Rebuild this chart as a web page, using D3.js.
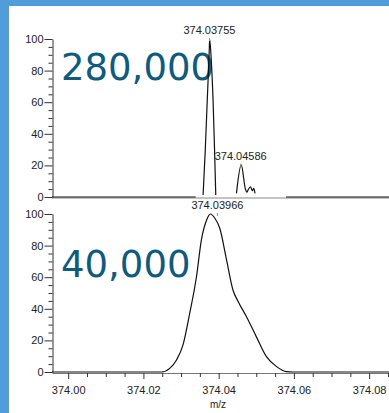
<!DOCTYPE html>
<html>
<head>
<meta charset="utf-8">
<script src="https://cdn.jsdelivr.net/npm/d3@7"></script>
<style>
  html, body { margin: 0; padding: 0; background: #fff; }
  svg { display: block; }
</style>
</head>
<body>
<div id="chart"></div>
<script>
// axis ticks
const yMajor = [0, 20, 40, 60, 80, 100];
const yMinor = [5, 10, 15, 25, 30, 35, 45, 50, 55, 65, 70, 75, 85, 90, 95];
const xMajor = [374.00, 374.02, 374.04, 374.06, 374.08];
const xMinor = [374.005, 374.01, 374.015, 374.025, 374.03, 374.035, 374.045, 374.05, 374.055, 374.065, 374.07, 374.075, 374.085];

// resolution labels
const resolutions = ['280,000', '40,000'];

// top profile (R = 280,000), null = gap in the trace
const topMz = [373.9957, 374.0339, null,
  374.03586, 374.03644, 374.03697, 374.03750, 374.03760, 374.03803, 374.03851, 374.03891, 374.03923, null,
  374.04473, 374.04600, 374.04712, 374.04750, 374.04781, 374.04845, 374.04898, 374.04932, 374.04967, null,
  374.0579, 374.0882];
const topInt = [0, 0, null,
  1.3, 29.7, 61.4, 93, 100, 86.7, 61.4, 29.7, 1.3, null,
  2.3, 20.3, 4.9, 3.0, 4.4, 6.5, 4.0, 5.5, 2.3, null,
  0, 0];

// bottom profile (R = 40,000)
const bottomMz = [373.9957, 374.0248, 374.0270, 374.0288, 374.0305, 374.0323, 374.0341, 374.0354, 374.0368, 374.0378,
  374.0390, 374.0403, 374.0421, 374.0438, 374.0452, 374.0474, 374.0500, 374.0527, 374.0554, 374.0580, 374.0598, 374.0882];
const bottomInt = [0, 0, 2.3, 7.6, 17, 37.1, 60.3, 83.5, 96.2, 100,
  97.3, 91, 70.9, 51.9, 44.5, 35, 22.4, 9.7, 3.4, 0.2, 0, 0];

// centroid labels
const topPeakMz = [374.03755, 374.04586];
const topPeakInt = [100, 20.5];
const bottomPeakMz = [374.03966];
const bottomPeakInt = [100];

const width = 389;
const height = 413;

const svg = d3.select('#chart')
  .append('svg')
  .attr('width', width)
  .attr('height', height)
  .style('font-family', '"Liberation Sans", Arial, sans-serif');

// blue frame
svg.append('rect').attr('x', 0).attr('y', 0).attr('width', width).attr('height', height).attr('fill', '#519dd9');
svg.append('rect').attr('x', 9).attr('y', 6).attr('width', width - 9).attr('height', height - 6).attr('fill', '#fff');

const x = d3.scaleLinear()
  .domain([373.9957, 374.0882])
  .range([52, 400]);

const panels = [
  { mz: topMz, int: topInt, peakMz: topPeakMz, peakInt: topPeakInt, y: d3.scaleLinear().domain([0, 100]).range([197, 39]), label: resolutions[0], labelY: 80, xLabels: false },
  { mz: bottomMz, int: bottomInt, peakMz: bottomPeakMz, peakInt: bottomPeakInt, y: d3.scaleLinear().domain([0, 100]).range([372, 214]), label: resolutions[1], labelY: 277, xLabels: true }
];

panels.forEach(p => {
  const g = svg.append('g');
  const y = p.y;

  // resolution text
  g.append('text')
    .attr('x', 61)
    .attr('y', p.labelY)
    .style('font-family', '"DejaVu Sans", sans-serif')
    .style('font-size', '37px')
    .style('fill', '#0f5a7d')
    .text(p.label);

  // y axis minor / major
  g.append('g')
    .attr('transform', 'translate(52.5,0)')
    .call(d3.axisLeft(y).tickValues(yMinor).tickSize(4).tickSizeOuter(0).tickFormat(''))
    .call(s => s.select('.domain').attr('stroke', '#333'))
    .call(s => s.selectAll('.tick line').attr('stroke', '#333'));

  g.append('g')
    .attr('transform', 'translate(52.5,0)')
    .call(d3.axisLeft(y).tickValues(yMajor).tickSize(8).tickSizeOuter(0).tickPadding(1))
    .call(s => s.select('.domain').remove())
    .call(s => s.selectAll('.tick line').attr('stroke', '#333'))
    .call(s => s.selectAll('text').style('font-size', '11px').style('fill', '#222').attr('font-family', null));

  // x axis line (and ticks for the bottom panel)
  const y0 = y(0) + 1;
  if (p.xLabels) {
    g.append('g')
      .attr('transform', `translate(0,${y0})`)
      .call(d3.axisBottom(x).tickValues(xMinor).tickSize(4).tickSizeOuter(0).tickFormat(''))
      .call(s => s.select('.domain').attr('stroke', '#777'))
      .call(s => s.selectAll('.tick line').attr('stroke', '#333'));
    g.append('g')
      .attr('transform', `translate(0,${y0})`)
      .call(d3.axisBottom(x).tickValues(xMajor).tickSize(6).tickPadding(7).tickFormat(d3.format('.2f')))
      .call(s => s.select('.domain').remove())
      .call(s => s.selectAll('.tick line').attr('stroke', '#333'))
      .call(s => s.selectAll('text').style('font-size', '11px').style('fill', '#222').attr('font-family', null));
  } else {
    g.append('line')
      .attr('x1', 52).attr('x2', width)
      .attr('y1', y0).attr('y2', y0)
      .attr('stroke', '#888');
  }

  // profile trace
  const pts = p.mz.map((m, i) => [m, p.int[i]]);
  const line = d3.line()
    .defined(d => d[0] !== null && d[1] !== null)
    .x(d => x(d[0]))
    .y(d => y(d[1]))
    .curve(d3.curveMonotoneX);

  g.append('path')
    .datum(pts)
    .attr('d', line)
    .attr('fill', 'none')
    .attr('stroke', '#111')
    .attr('stroke-width', 1.2);

  // centroid markers + labels
  p.peakMz.forEach((m, i) => {
    const py = y(p.peakInt[i]);
    g.append('line')
      .attr('x1', x(m)).attr('x2', x(m))
      .attr('y1', py - 1).attr('y2', py + 2)
      .attr('stroke', '#5cb85c');
    g.append('text')
      .attr('x', x(m))
      .attr('y', py - 5)
      .style('text-anchor', 'middle')
      .style('font-size', '11px')
      .style('fill', '#222')
      .text(d3.format('.5f')(m));
  });
});

// x axis title
svg.append('text')
  .attr('x', 218)
  .attr('y', 408)
  .style('text-anchor', 'middle')
  .style('font-size', '10px')
  .style('fill', '#222')
  .text('m/z');
</script>
</body>
</html>
